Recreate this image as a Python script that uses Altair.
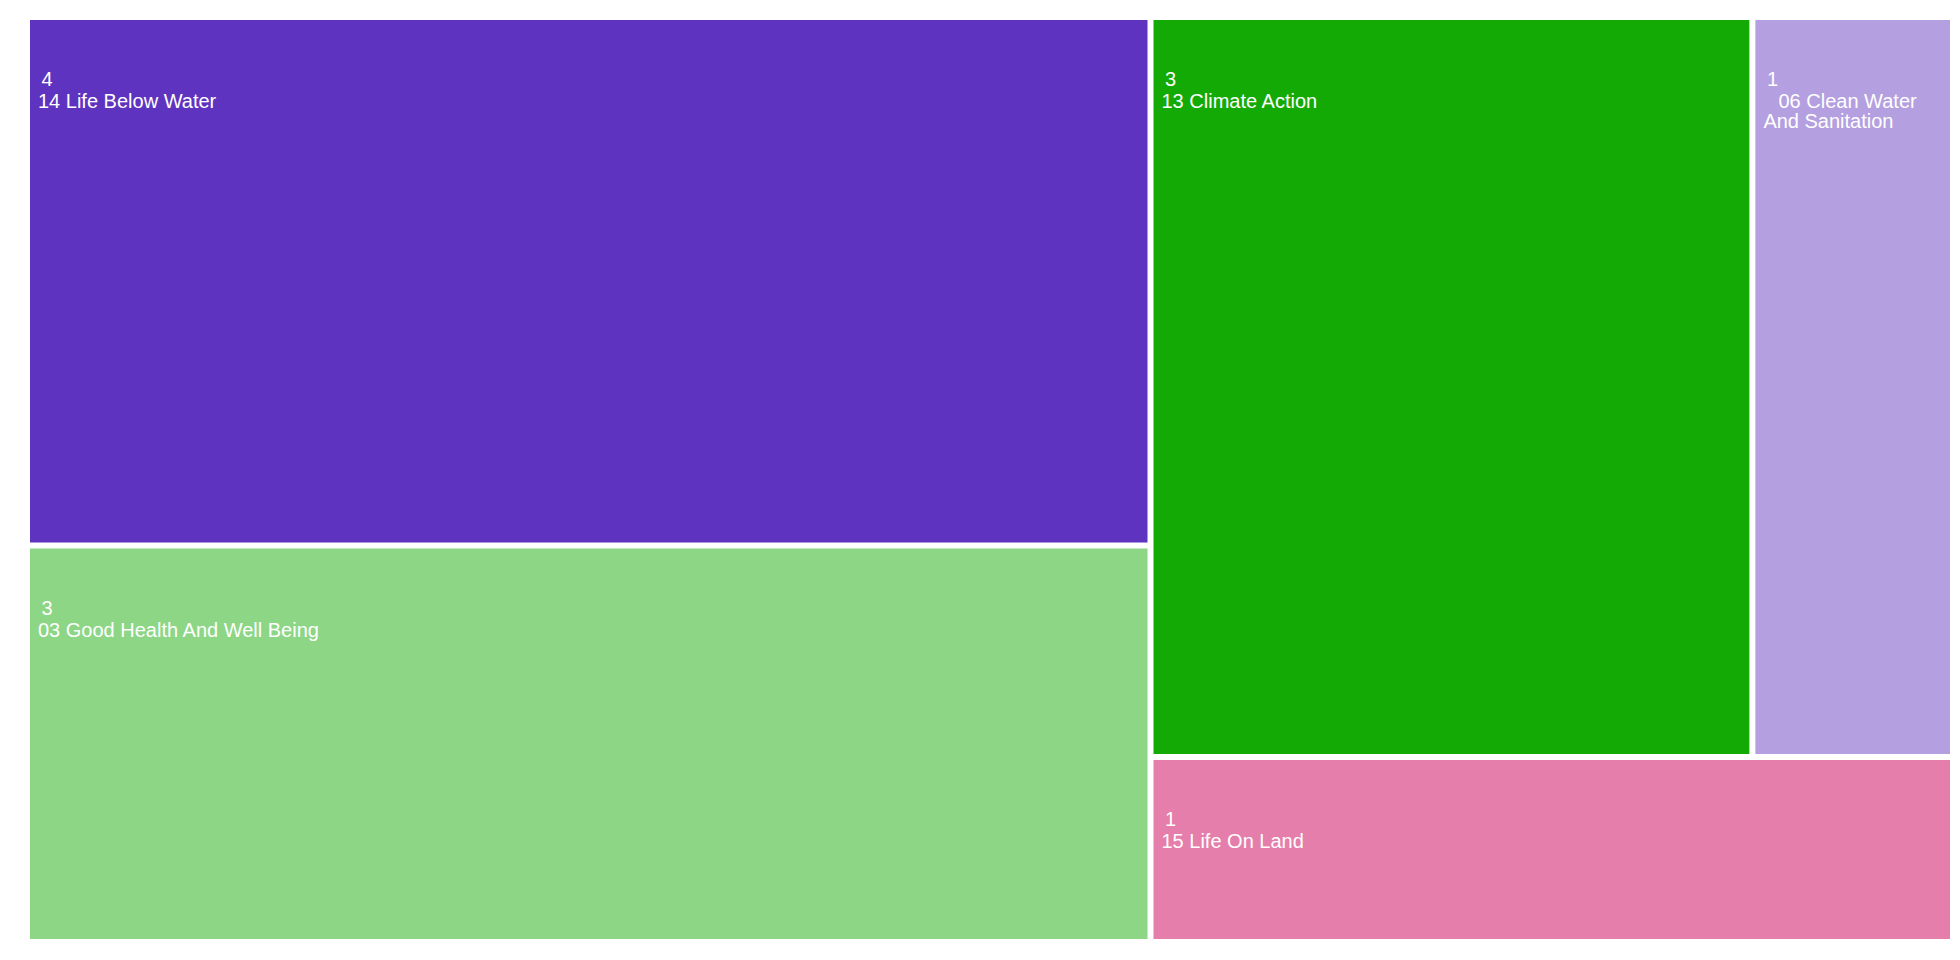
import altair as alt
import pandas as pd

# ---- data ----
categories = [
    "14 Life Below Water",
    "03 Good Health And Well Being",
    "13 Climate Action",
    "06 Clean Water And Sanitation",
    "15 Life On Land",
]
display_labels = [
    "14 Life Below Water",
    "03 Good Health And Well Being",
    "13 Climate Action",
    "\u200b\u00a0\u00a0\u2009" + "06 Clean Water\nAnd Sanitation",
    "15 Life On Land",
]
values = [4, 3, 3, 1, 1]
colors = ["#5E33BF", "#8CD686", "#14AA05", "#B4A0E0", "#E57EAA"]

# ---- layout (d3-style squarify computed from values) ----
W, H = 1944, 935
GAP = 6
X0, Y0, X1, Y1 = 22 - GAP / 2, 12 - GAP / 2, 1942 + GAP / 2, 931 + GAP / 2
PHI = (1 + 5 ** 0.5) / 2


def squarify(vals, x0, y0, x1, y1, ratio=PHI):
    rects = [None] * len(vals)
    n = len(vals)
    i0 = i1 = 0
    total = float(sum(vals))
    while i0 < n:
        dx, dy = x1 - x0, y1 - y0
        s = vals[i1]
        i1 += 1
        mn = mx = s
        alpha = max(dy / dx, dx / dy) / (total * ratio)
        beta = s * s * alpha
        min_ratio = max(mx / beta, beta / mn)
        while i1 < n:
            v = vals[i1]
            s += v
            mn = min(mn, v)
            mx = max(mx, v)
            beta = s * s * alpha
            new_ratio = max(mx / beta, beta / mn)
            if new_ratio > min_ratio:
                s -= v
                break
            min_ratio = new_ratio
            i1 += 1
        idx = list(range(i0, i1))
        if dx < dy:  # dice: row across the top
            ny = y0 + dy * s / total
            cx = x0
            for i in idx:
                w = dx * vals[i] / s
                rects[i] = (cx, y0, cx + w, ny)
                cx += w
            y0 = ny
        else:  # slice: column at the left
            nx = x0 + dx * s / total
            cy = y0
            for i in idx:
                h = dy * vals[i] / s
                rects[i] = (x0, cy, nx, cy + h)
                cy += h
            x0 = nx
        total -= s
        i0 = i1
    return rects


rects = squarify(values, X0, Y0, X1, Y1)
df = pd.DataFrame({
    "category": categories,
    "label": display_labels,
    "value": values,
    "valtext": ["\u200b\u00a0" + str(v) for v in values],
    "x0": [r[0] + GAP / 2 for r in rects],
    "y0": [r[1] + GAP / 2 for r in rects],
    "x1": [r[2] - GAP / 2 for r in rects],
    "y1": [r[3] - GAP / 2 for r in rects],
})

xs = alt.Scale(domain=[0, W], nice=False, zero=False)
ys = alt.Scale(domain=[0, H], nice=False, zero=False, reverse=True)

base = alt.Chart(df)

rect = base.mark_rect().encode(
    x=alt.X("x0:Q", scale=xs, axis=None),
    x2="x1:Q",
    y=alt.Y("y0:Q", scale=ys, axis=None),
    y2="y1:Q",
    color=alt.Color("category:N", scale=alt.Scale(domain=categories, range=colors), legend=None),
)

vtext = base.mark_text(
    align="left", baseline="alphabetic", dx=6, dy=66,
    font="Liberation Sans", fontSize=20, color="white",
).encode(
    x=alt.X("x0:Q", scale=xs, axis=None),
    y=alt.Y("y0:Q", scale=ys, axis=None),
    text="valtext:N",
)

ltext = base.mark_text(
    align="left", baseline="alphabetic", dx=8, dy=88,
    font="Liberation Sans", fontSize=20, color="white",
    lineBreak="\n", lineHeight=20,
).encode(
    x=alt.X("x0:Q", scale=xs, axis=None),
    y=alt.Y("y0:Q", scale=ys, axis=None),
    text="label:N",
)

chart = (
    alt.layer(rect, vtext, ltext)
    .properties(width=W, height=H, padding=0, background="white")
    .configure_view(strokeWidth=0)
)

chart.save("out.html", embed_options={"renderer": "svg", "actions": False})
